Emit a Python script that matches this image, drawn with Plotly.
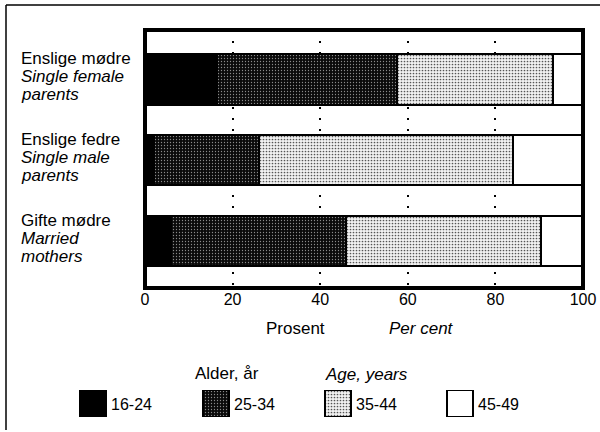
import plotly.graph_objects as go

# ---- data ----
groups_no = ["Enslige mødre", "Enslige fedre", "Gifte mødre"]
groups_en = [["Single female", "parents"], ["Single male", "parents"], ["Married", "mothers"]]
age_groups = ["16-24", "25-34", "35-44", "45-49"]
share_16_24 = [16.5, 2.0, 6.0]
share_25_34 = [41.0, 24.0, 40.0]
share_35_44 = [35.7, 58.0, 44.5]
share_45_49 = [6.8, 16.0, 9.5]
x_ticks = [0, 20, 40, 60, 80, 100]

series = [share_16_24, share_25_34, share_35_44, share_45_49]

W, H = 600, 432
FONT = "Liberation Sans, Arial, Helvetica, sans-serif"

def fx(p):
    return p / W

def fy(p):
    return 1 - p / H

# plot area in pixels
PL, PR, PT, PB = 145, 583, 30, 288

styles = [
    dict(color="#000000"),
    dict(color="#1a1a1a", pattern=dict(shape=".", bgcolor="#0a0a0a", fgcolor="#8a8a8a",
                                       size=3, solidity=0.15, fillmode="replace")),
    dict(color="#e8e8e8", pattern=dict(shape=".", bgcolor="#f2f2f2", fgcolor="#555555",
                                       size=3, solidity=0.25, fillmode="replace")),
    dict(color="#ffffff"),
]

fig = go.Figure()
ypos = list(range(len(groups_no)))
for name, vals, st in zip(age_groups, series, styles):
    fig.add_trace(go.Bar(
        x=vals, y=ypos, orientation="h", name=name, width=0.62,
        marker=dict(line=dict(color="black", width=2), **st),
        showlegend=False, hoverinfo="skip",
    ))

# legend boxes as bars on a second axis pair (pixel-like x range)
leg_left = [80, 203, 325, 447]
for name, st, lx in zip(age_groups, styles, leg_left):
    fig.add_trace(go.Bar(
        x=[lx + 13], y=[1], base=[0], width=[26], orientation="v",
        marker=dict(line=dict(color="black", width=1.5), **st),
        xaxis="x2", yaxis="y2", showlegend=False, hoverinfo="skip",
    ))

fig.update_layout(
    width=W, height=H, autosize=False,
    margin=dict(l=0, r=0, t=0, b=0, autoexpand=False),
    paper_bgcolor="white", plot_bgcolor="white",
    barmode="stack",
    font=dict(family=FONT, size=16, color="black"),
    xaxis=dict(domain=[fx(PL), fx(PR)], range=[0, 100], tickvals=x_ticks,
               ticktext=[str(v) for v in x_ticks], automargin=False,
               showgrid=True, gridcolor="black", gridwidth=2, griddash="2px,9px",
               zeroline=False, showline=False, ticks="", tickfont=dict(size=16),
               fixedrange=True),
    yaxis=dict(domain=[fy(PB), fy(PT)], range=[2.582, -0.613], showticklabels=False,
               automargin=False,
               showgrid=False, zeroline=False, showline=False, ticks="", fixedrange=True),
    xaxis2=dict(domain=[0, 1], range=[0, W], visible=False, anchor="y2", fixedrange=True,
                automargin=False),
    yaxis2=dict(domain=[fy(417), fy(390)], range=[0, 1], visible=False, anchor="x2",
                fixedrange=True, automargin=False),
    showlegend=False,
)

frame = dict(color="black", width=1.5)
shapes = [
    # plot frame
    dict(type="rect", xref="paper", yref="paper", x0=fx(PL), x1=fx(PR), y0=fy(PB), y1=fy(PT),
         line=dict(color="black", width=4), layer="above"),
    # outer frame (left and top edges)
    dict(type="line", xref="paper", yref="paper", x0=fx(6), x1=fx(6), y0=fy(430), y1=fy(5),
         line=frame, layer="above"),
    dict(type="line", xref="paper", yref="paper", x0=fx(6), x1=fx(600), y0=fy(5), y1=fy(5),
         line=frame, layer="above"),
]
fig.update_layout(shapes=shapes)

ann = []
for i, (no, en) in enumerate(zip(groups_no, groups_en)):
    lines = [no, "<i>%s</i>" % en[0], "<i>%s</i>" % en[1]]
    for j, t in enumerate(lines):
        ann.append(dict(text=t, xref="paper", yref="y", x=fx(19), y=i, xanchor="left",
                        yanchor="middle", yshift=21 - 18 * j, showarrow=False,
                        font=dict(size=17)))

ann += [
    dict(text="Prosent", xref="paper", yref="paper", x=fx(295), y=fy(328),
         xanchor="center", yanchor="middle", showarrow=False, font=dict(size=17)),
    dict(text="<i>Per cent</i>", xref="paper", yref="paper", x=fx(421), y=fy(328),
         xanchor="center", yanchor="middle", showarrow=False, font=dict(size=17)),
    dict(text="Alder, år", xref="paper", yref="paper", x=fx(227), y=fy(373),
         xanchor="center", yanchor="middle", showarrow=False, font=dict(size=17)),
    dict(text="<i>Age, years</i>", xref="paper", yref="paper", x=fx(366), y=fy(374),
         xanchor="center", yanchor="middle", showarrow=False, font=dict(size=17)),
]
for name, lx in zip(age_groups, leg_left):
    ann.append(dict(text=name, xref="paper", yref="paper", x=fx(lx + 29), y=fy(404),
                    xanchor="left", yanchor="middle", showarrow=False, font=dict(size=16)))

fig.update_layout(annotations=ann)

fig.write_html(
    "out.html",
    config={"displayModeBar": False, "responsive": False},
    post_script="document.documentElement.style.overflow='hidden';"
                "document.body.style.margin='0';document.body.style.overflow='hidden';",
)
